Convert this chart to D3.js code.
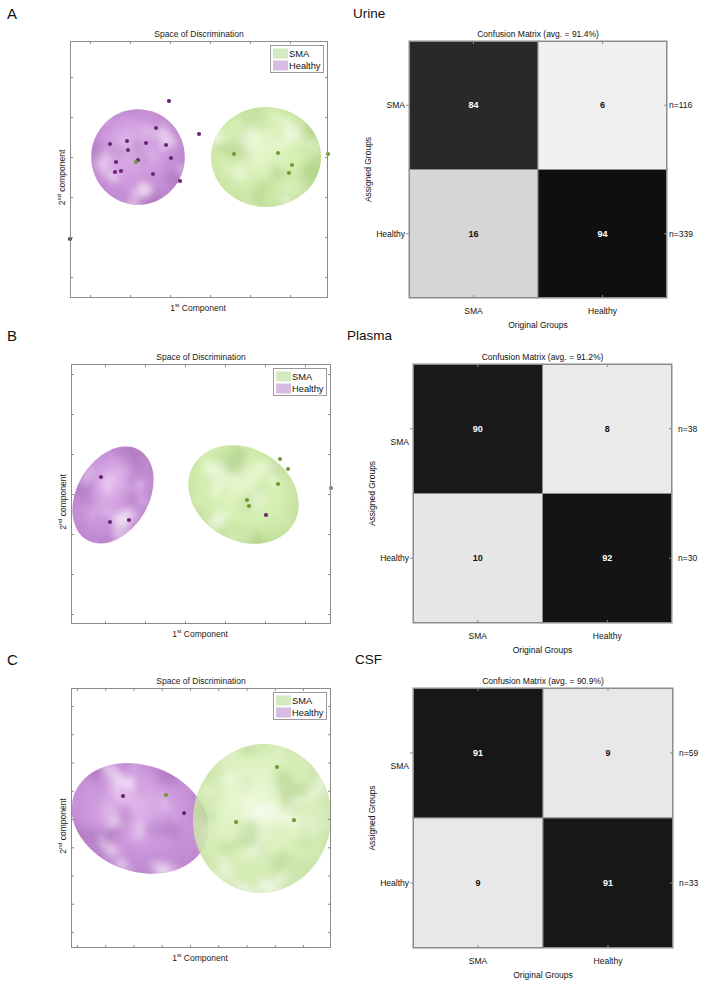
<!DOCTYPE html>
<html><head><meta charset="utf-8">
<script src="https://cdn.jsdelivr.net/npm/d3@7"></script>
<style>
body{margin:0;background:#fff;}
svg{display:block;font-family:"Liberation Sans",Arial,sans-serif;}
</style>
</head><body>
<svg id="chart" width="709" height="984"></svg>
<script>
// ---------- DATA ----------
const groups = ["SMA", "Healthy"];
const sampleTypes = ["Urine", "Plasma", "CSF"];
const panelLetters = ["A", "B", "C"];

// confusion matrices: rows = assigned group, cols = original group (percent)
const cmValues = [
  [[84, 6], [16, 94]],
  [[90, 8], [10, 92]],
  [[91, 9], [9, 91]]
];
const cmAverages = ["91.4", "91.2", "90.9"];
const cmCounts = [[116, 339], [38, 30], [59, 33]];

// discriminant space scores [1st component, 2nd component]
const urineHealthy = [[1.975,4.4],[2.725,3.575],[1.65,3.725],[0.5,3.325],[0.925,3.4],[1.4,3.35],[1.9,3.3],[0.95,3.175],[2.025,2.975],[1.2,2.925],[0.65,2.875],[0.775,2.65],[0.625,2.625],[1.575,2.575],[2.25,2.4],[-0.5,0.95]];
const urineSMA = [[1.15,2.875],[3.6,3.075],[4.7,3.1],[5.05,2.8],[4.975,2.6],[5.95,3.075]];
const plasmaHealthy = [[-0.1,3.425],[0.125,2.3],[0.6,2.35],[4.025,2.475]];
const plasmaSMA = [[4.375,3.875],[4.575,3.625],[4.325,3.25],[3.55,2.85],[3.6,2.7],[5.65,3.15]];
const csfHealthy = [[1.63,4.81],[3.79,4.21]];
const csfSMA = [[3.15,4.85],[5.63,3.89],[7.08,5.84],[7.68,3.96]];

// confidence ellipsoids: [group, centre x, centre y, radius x, radius y, rotation deg]
const urineEllipses = [["Healthy",1.2,3.0,1.17,1.195,0],["SMA",4.4,3.0,1.375,1.25,0]];
const plasmaEllipses = [["Healthy",0.2,2.975,0.9,1.3,30],["SMA",3.4625,2.9875,1.45,1.15,30]];
const csfEllipses = [["Healthy",2.23,4.02,2.48,1.88,20],["SMA",6.55,4.02,2.44,2.64,10]];

// axis domains and tick values
const xDomains = [[-0.5,5.95],[-0.85,5.65],[-0.21,8.99]];
const yDomains = [[-0.525,5.9],[-0.25,6.25],[-0.566,8.637]];
const xTicks = [[0,1,2,3,4,5],[0,1,2,3,4,5],[0,1,2,3,4,5,6,7,8]];
const yTicks = [[0,1,2,3,4,5],[0,1,2,3,4,5,6],[0,1,2,3,4,5,6,7,8]];

const scatterSets = [
  {healthy: urineHealthy, sma: urineSMA, ellipses: urineEllipses},
  {healthy: plasmaHealthy, sma: plasmaSMA, ellipses: plasmaEllipses},
  {healthy: csfHealthy, sma: csfSMA, ellipses: csfEllipses}
];

// ---------- LAYOUT ----------
const scatterBoxes = [[70,41,328,298],[71,364,331,624],[71,688,331,948]];
const cmBoxes = [[409,41,667,298],[413,364,672,623],[413,688,673,948]];
const letterY = [13, 335, 659];
const typeX = [353, 347, 355];
const rowLabelShift = [[0,0],[13,0],[13,0]];

const colors = {
  SMA: {dot:"#6f9b30", g0:"#eaf8d2", g1:"#d5eeb2", g2:"#c2df9c", dark:"#8fb866", legend:"#d3e9c0"},
  Healthy: {dot:"#6c2577", g0:"#e2b9ec", g1:"#cd97dc", g2:"#bb84cc", dark:"#9a62ab", legend:"#d7bbe2"}
};
const axisGray = "#8c8c8c";
const fs = 8.5;

const svg = d3.select("#chart");
const defs = svg.append("defs");

["SMA","Healthy"].forEach(gname => {
  const c = colors[gname];
  const rg = defs.append("radialGradient").attr("id","grad-"+gname)
    .attr("cx","48%").attr("cy","48%").attr("r","58%").attr("fx","38%").attr("fy","36%");
  rg.append("stop").attr("offset","0%").attr("stop-color",c.g0);
  rg.append("stop").attr("offset","60%").attr("stop-color",c.g1);
  rg.append("stop").attr("offset","100%").attr("stop-color",c.g2);
});

function makeFilters(id, seed, darkColor) {
  const dc = d3.rgb(darkColor);
  const fl = defs.append("filter").attr("id","lt"+id)
    .attr("x","-5%").attr("y","-5%").attr("width","110%").attr("height","110%")
    .attr("color-interpolation-filters","sRGB");
  fl.append("feTurbulence").attr("type","fractalNoise").attr("baseFrequency","0.04")
    .attr("numOctaves",2).attr("seed",seed).attr("result","n");
  fl.append("feColorMatrix").attr("in","n").attr("type","matrix")
    .attr("values","0 0 0 0 1  0 0 0 0 1  0 0 0 0 1  3.6 0 0 0 -1.95").attr("result","a");
  fl.append("feGaussianBlur").attr("in","a").attr("stdDeviation",3).attr("result","b");
  fl.append("feComposite").attr("in","b").attr("in2","SourceAlpha").attr("operator","in");

  const fd = defs.append("filter").attr("id","dk"+id)
    .attr("x","-5%").attr("y","-5%").attr("width","110%").attr("height","110%")
    .attr("color-interpolation-filters","sRGB");
  fd.append("feTurbulence").attr("type","fractalNoise").attr("baseFrequency","0.03")
    .attr("numOctaves",2).attr("seed",seed+50).attr("result","n");
  fd.append("feColorMatrix").attr("in","n").attr("type","matrix")
    .attr("values",`0 0 0 0 ${dc.r/255}  0 0 0 0 ${dc.g/255}  0 0 0 0 ${dc.b/255}  -3.5 0 0 0 1.65`).attr("result","a");
  fd.append("feGaussianBlur").attr("in","a").attr("stdDeviation",3.5).attr("result","b");
  fd.append("feComposite").attr("in","b").attr("in2","SourceAlpha").attr("operator","in");
}

function superLabel(sel, num, sup, rest) {
  sel.append("tspan").text(num);
  sel.append("tspan").attr("font-size",5.8).attr("dy",-3).text(sup);
  sel.append("tspan").attr("dy",3).text(rest);
}

function styleAxis(g) {
  g.select(".domain").remove();
  g.selectAll(".tick line").attr("stroke",axisGray);
  g.selectAll("text").remove();
}

// ---------- PANELS ----------
sampleTypes.forEach((stype, p) => {
  svg.append("text").attr("x",7).attr("y",letterY[p]).attr("dominant-baseline","central")
    .attr("font-size",15).attr("fill","#111").text(panelLetters[p]);
  svg.append("text").attr("x",typeX[p]).attr("y",letterY[p]).attr("dominant-baseline","central")
    .attr("font-size",13.5).attr("fill","#111").text(stype);

  // ===== scatter =====
  const [sx0, sy0, sx1, sy1] = scatterBoxes[p];
  const x = d3.scaleLinear().domain(xDomains[p]).range([sx0, sx1]);
  const y = d3.scaleLinear().domain(yDomains[p]).range([sy1, sy0]);
  const gS = svg.append("g");
  const clipId = "clip"+p;
  defs.append("clipPath").attr("id",clipId).append("rect")
    .attr("x",sx0).attr("y",sy0).attr("width",sx1-sx0).attr("height",sy1-sy0);

  const set = scatterSets[p];
  const gE = gS.append("g").attr("clip-path",`url(#${clipId})`);
  set.ellipses.forEach((e, i) => {
    const [gname, cx, cy, rx, ry, ang] = e;
    const px = x(cx), py = y(cy);
    const prx = x(cx + rx) - x(cx), pry = y(cy) - y(cy + ry);
    const fid = p + "_" + i;
    makeFilters(fid, 3 + p*7 + i*3, colors[gname].dark);
    const eg = gE.append("g").attr("opacity", gname === "SMA" && p === 2 ? 0.86 : 1)
      .attr("transform",`rotate(${ang} ${px} ${py})`);
    const base = () => eg.append("ellipse").attr("cx",px).attr("cy",py).attr("rx",prx).attr("ry",pry);
    base().attr("fill",`url(#grad-${gname})`);
    base().attr("fill","#000").attr("filter",`url(#dk${fid})`).attr("opacity",0.55);
    base().attr("fill","#fff").attr("filter",`url(#lt${fid})`).attr("opacity",0.7);
  });

  const pts = [].concat(
    set.healthy.map(d => ({g:"Healthy", v:d})),
    set.sma.map(d => ({g:"SMA", v:d}))
  );
  gS.append("g").selectAll("circle").data(pts).join("circle")
    .attr("cx", d => x(d.v[0])).attr("cy", d => y(d.v[1])).attr("r",2.1)
    .attr("fill", d => colors[d.g].dot);

  gS.append("g").attr("transform",`translate(0,${sy1})`)
    .call(d3.axisBottom(x).tickValues(xTicks[p]).tickSize(-3).tickFormat("")).call(styleAxis);
  gS.append("g").attr("transform",`translate(0,${sy0})`)
    .call(d3.axisTop(x).tickValues(xTicks[p]).tickSize(-3).tickFormat("")).call(styleAxis);
  gS.append("g").attr("transform",`translate(${sx0},0)`)
    .call(d3.axisLeft(y).tickValues(yTicks[p]).tickSize(-3).tickFormat("")).call(styleAxis);
  gS.append("g").attr("transform",`translate(${sx1},0)`)
    .call(d3.axisRight(y).tickValues(yTicks[p]).tickSize(-3).tickFormat("")).call(styleAxis);
  gS.append("rect").attr("x",sx0+0.5).attr("y",sy0+0.5).attr("width",sx1-sx0-1).attr("height",sy1-sy0-1)
    .attr("fill","none").attr("stroke",axisGray).attr("stroke-width",1);

  gS.append("text").attr("x",(sx0+sx1)/2).attr("y",sy0-7).attr("text-anchor","middle")
    .attr("dominant-baseline","central").attr("font-size",fs).attr("fill","#222").text("Space of Discrimination");
  superLabel(gS.append("text").attr("x",(sx0+sx1)/2 - 1).attr("y",sy1+10).attr("text-anchor","middle")
    .attr("dominant-baseline","central").attr("font-size",fs).attr("fill","#222"), "1", "st", " Component");
  superLabel(gS.append("text").attr("transform",`translate(${sx0-8},${(sy0+sy1)/2+8}) rotate(-90)`)
    .attr("text-anchor","middle").attr("dominant-baseline","central").attr("font-size",fs).attr("fill","#222"),
    "2", "nd", " component");

  // legend
  const lx = sx1 - 58, ly = sy0 + 4;
  const lg = gS.append("g");
  lg.append("rect").attr("x",lx+0.5).attr("y",ly+0.5).attr("width",53).attr("height",27)
    .attr("fill","#fff").attr("stroke","#9a9a9a");
  groups.forEach((gname, i) => {
    lg.append("rect").attr("x",lx+3).attr("y",ly+3.5+i*12).attr("width",15).attr("height",10)
      .attr("fill",colors[gname].legend);
    lg.append("text").attr("x",lx+19).attr("y",ly+8.5+i*12).attr("dominant-baseline","central")
      .attr("font-size",9.3).attr("fill","#111").text(gname);
  });

  // ===== confusion matrix =====
  const [cx0, cy0, cx1, cy1] = cmBoxes[p];
  const xb = d3.scaleBand().domain(groups).range([cx0, cx1]);
  const yb = d3.scaleBand().domain(groups).range([cy0, cy1]);
  const gray = d3.scaleLinear().domain([0,100]).range([255,0]);
  const gC = svg.append("g");
  const cells = [];
  groups.forEach((rg, r) => groups.forEach((cg, c) => cells.push({r:rg, c:cg, v:cmValues[p][r][c]})));
  gC.selectAll("rect.cell").data(cells).join("rect").attr("class","cell")
    .attr("x", d => xb(d.c)).attr("y", d => yb(d.r))
    .attr("width", xb.bandwidth()).attr("height", yb.bandwidth())
    .attr("fill", d => { const g = Math.round(gray(d.v)); return `rgb(${g},${g},${g})`; })
    .attr("stroke", axisGray).attr("stroke-width",1);
  gC.selectAll("text.val").data(cells).join("text").attr("class","val")
    .attr("x", d => xb(d.c) + xb.bandwidth()/2).attr("y", d => yb(d.r) + yb.bandwidth()/2)
    .attr("text-anchor","middle").attr("dominant-baseline","central")
    .attr("font-size",9).attr("font-weight","bold")
    .attr("fill", d => d.v > 50 ? "#fff" : "#111").text(d => d.v);

  gC.append("g").attr("transform",`translate(0,${cy1})`)
    .call(d3.axisBottom(xb).tickSize(-3).tickFormat("")).call(styleAxis);
  gC.append("g").attr("transform",`translate(0,${cy0})`)
    .call(d3.axisTop(xb).tickSize(-3).tickFormat("")).call(styleAxis);
  gC.append("g").attr("transform",`translate(${cx0},0)`)
    .call(d3.axisLeft(yb).tickSize(3).tickFormat("")).call(styleAxis);
  gC.append("g").attr("transform",`translate(${cx1},0)`)
    .call(d3.axisRight(yb).tickSize(-3).tickFormat("")).call(styleAxis);
  gC.append("rect").attr("x",cx0+0.5).attr("y",cy0+0.5).attr("width",cx1-cx0-1).attr("height",cy1-cy0-1)
    .attr("fill","none").attr("stroke",axisGray);

  groups.forEach((gname, i) => {
    const cyc = yb(gname) + yb.bandwidth()/2;
    gC.append("text").attr("x",cx0-4).attr("y",cyc + rowLabelShift[p][i]).attr("text-anchor","end")
      .attr("dominant-baseline","central").attr("font-size",fs).attr("fill","#111").text(gname);
    gC.append("text").attr("x",cx1 + (p === 0 ? 2 : 6)).attr("y",cyc).attr("text-anchor","start")
      .attr("dominant-baseline","central").attr("font-size",fs).attr("fill","#111").text("n=" + cmCounts[p][i]);
    gC.append("text").attr("x",xb(gname) + xb.bandwidth()/2).attr("y",cy1+13).attr("text-anchor","middle")
      .attr("dominant-baseline","central").attr("font-size",fs).attr("fill","#111").text(gname);
  });
  gC.append("text").attr("x",(cx0+cx1)/2).attr("y",cy0-7).attr("text-anchor","middle")
    .attr("dominant-baseline","central").attr("font-size",fs).attr("fill","#111")
    .text(`Confusion Matrix (avg. = ${cmAverages[p]}%)`);
  gC.append("text").attr("x",(cx0+cx1)/2).attr("y",cy1+27).attr("text-anchor","middle")
    .attr("dominant-baseline","central").attr("font-size",fs).attr("fill","#111").text("Original Groups");
  gC.append("text").attr("transform",`translate(${cx0-41},${(cy0+cy1)/2}) rotate(-90)`)
    .attr("text-anchor","middle").attr("dominant-baseline","central").attr("font-size",fs)
    .attr("fill","#111").text("Assigned Groups");
});
</script>
</body></html>
